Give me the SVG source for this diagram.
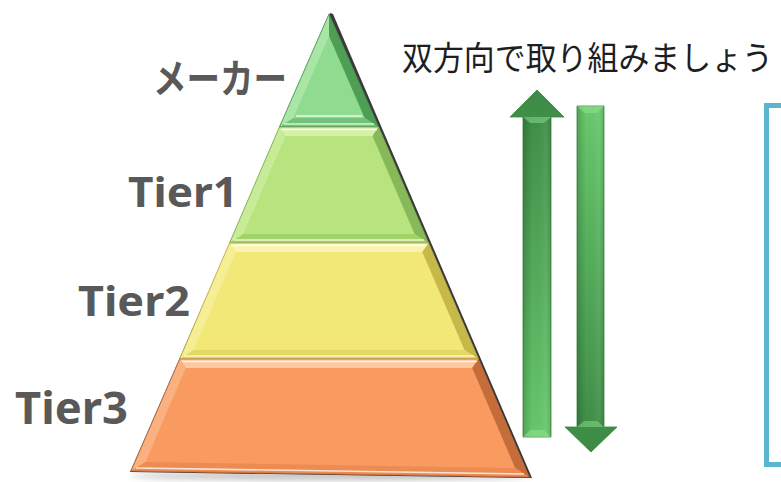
<svg xmlns="http://www.w3.org/2000/svg" width="781" height="482" viewBox="0 0 781 482">
<style>
.lbl{font-family:"Noto Sans","Noto Sans CJK JP",sans-serif;font-weight:bold;fill:#595959}
.ttl{font-family:"Noto Sans CJK JP","Noto Sans",sans-serif;font-weight:normal;fill:#1e1e1e}
.hl{fill:none;stroke:#ffffff;stroke-opacity:0.75;stroke-width:1.6}
.edge{fill:none;stroke-width:0.8}
</style>
<defs>
<linearGradient id="gUp" x1="0" y1="0" x2="0" y2="1">
<stop offset="0" stop-color="#3c8a45"/><stop offset="1" stop-color="#68c96d"/>
</linearGradient>
<linearGradient id="gDown" x1="0" y1="0" x2="0" y2="1">
<stop offset="0" stop-color="#68c96d"/><stop offset="1" stop-color="#3c8a45"/>
</linearGradient>
<linearGradient id="gShaft" x1="0" y1="0" x2="1" y2="0">
<stop offset="0" stop-color="#000" stop-opacity="0.18"/><stop offset="0.35" stop-color="#000" stop-opacity="0"/><stop offset="0.8" stop-color="#fff" stop-opacity="0.06"/><stop offset="1" stop-color="#000" stop-opacity="0.12"/>
</linearGradient>
<filter id="blur" x="-20%" y="-50%" width="140%" height="200%"><feGaussianBlur stdDeviation="3"/></filter>
</defs>

<rect width="781" height="482" fill="#ffffff"/>

<g id="pyramid-shadow">
<ellipse cx="330" cy="476" rx="200" ry="4" fill="#000" opacity="0.25" filter="url(#blur)"/>
<polygon points="330,13 333,14 532,478 130,472" fill="#3a3a3a"/>
</g>

<g id="maker">
<polygon points="329,14 378.6,127 279.4,127" fill="#8fdc90"/>
<polygon points="329,14 329,36 293.3,118 279.4,127" fill="#a9e6a6"/>
<polygon points="329,14 378.6,127 364.7,118 329,36" fill="#4f9e55"/>
<polygon points="279.4,127 293.3,118 364.7,118 378.6,127" fill="#72c277"/>
<polyline class="hl" points="284,124 374,124"/>
<polyline class="hl" points="296,116 362,116" stroke-opacity="0.5"/>
<polygon class="edge" points="329,14 378.6,127 279.4,127" stroke="#3f8a46"/>
</g>

<g id="tier1">
<polygon points="279.4,127 378.6,127 428.5,243 229.5,243" fill="#b7e47f"/>
<polygon points="279.4,127 378.6,127 372.5,136 285.5,136" fill="#d7f1aa"/>
<polygon points="279.4,127 285.5,136 243.4,234 229.5,243" fill="#c8eb97"/>
<polygon points="378.6,127 428.5,243 414.6,234 372.5,136" fill="#87b95a"/>
<polygon points="229.5,243 243.4,234 414.6,234 428.5,243" fill="#a1d36a"/>
<polyline class="hl" points="281,129.5 377,129.5"/>
<polyline class="hl" points="234,240 424,240"/>
<polygon class="edge" points="279.4,127 378.6,127 428.5,243 229.5,243" stroke="#6ea646"/>
</g>

<g id="tier2">
<polygon points="229.5,243 428.5,243 478.4,359 179.7,359" fill="#f2e878"/>
<polygon points="229.5,243 428.5,243 422.3,252 235.7,252" fill="#f9f2b2"/>
<polygon points="229.5,243 235.7,252 193.5,350 179.7,359" fill="#f6ee94"/>
<polygon points="428.5,243 478.4,359 464.5,350 422.3,252" fill="#c7b84a"/>
<polygon points="179.7,359 193.5,350 464.5,350 478.4,359" fill="#e4d762"/>
<polyline class="hl" points="231,245.5 427,245.5"/>
<polyline class="hl" points="184,356 474,356"/>
<polygon class="edge" points="229.5,243 428.5,243 478.4,359 179.7,359" stroke="#b8a840"/>
</g>

<g id="tier3">
<polygon points="179.7,359 478.4,359 529.1,477 131.1,471" fill="#f99b60"/>
<polygon points="179.7,359 478.4,359 472.2,368 185.8,368" fill="#fcc8a0"/>
<polygon points="179.7,359 185.8,368 145.4,462 131.1,471" fill="#fbb080"/>
<polygon points="478.4,359 529.1,477 515.2,468 472.2,368" fill="#c46d3b"/>
<polygon points="131.1,471 145.4,462 515.2,468 529.1,477" fill="#ec8b52"/>
<polyline class="hl" points="182,361.5 477,361.5"/>
<polyline class="hl" points="136,468 524,474"/>
<polygon class="edge" points="179.7,359 478.4,359 529.1,477 131.1,471" stroke="#c0683a"/>
</g>

<g id="labels">
<text class="lbl" x="153" y="93" font-size="40" textLength="134" lengthAdjust="spacingAndGlyphs">メーカー</text>
<text class="lbl" x="128" y="207" font-size="42" textLength="110" lengthAdjust="spacingAndGlyphs">Tier1</text>
<text class="lbl" x="78" y="316" font-size="42" textLength="112" lengthAdjust="spacingAndGlyphs">Tier2</text>
<text class="lbl" x="15" y="424" font-size="44" textLength="113" lengthAdjust="spacingAndGlyphs">Tier3</text>
</g>

<g id="title">
<text class="ttl" x="402" y="0" font-size="31" textLength="371" lengthAdjust="spacingAndGlyphs" transform="translate(0,70) scale(1,1.07)">双方向で取り組みましょう</text>
</g>

<g id="connectors">
<g id="arrow-up">
<polygon points="537,90 564,117 551,117 551,437 523,437 523,117 510,117" fill="url(#gUp)" stroke="#3a8442" stroke-width="0.8"/>
<rect x="523" y="117" width="28" height="320" fill="url(#gShaft)"/>
<polygon points="523,117 530,123 544,123 551,117" fill="#7fd483" opacity="0.6"/>
<polygon points="523,437 530,430 544,430 551,437" fill="#8fe090" opacity="0.6"/>
</g>
<g id="arrow-down">
<polygon points="577,106 604,106 604,427 617,427 591,452 565,427 577,427" fill="url(#gDown)" stroke="#3a8442" stroke-width="0.8"/>
<rect x="577" y="106" width="27" height="321" fill="url(#gShaft)"/>
<polygon points="577,106 584,113 597,113 604,106" fill="#8fe090" opacity="0.6"/>
<polygon points="577,427 584,421 597,421 604,427" fill="#7fd483" opacity="0.6"/>
</g>
</g>

<g id="box">
<rect x="766.5" y="105.5" width="40" height="359" fill="none" stroke="#5bb5cc" stroke-width="5"/>
</g>
</svg>
